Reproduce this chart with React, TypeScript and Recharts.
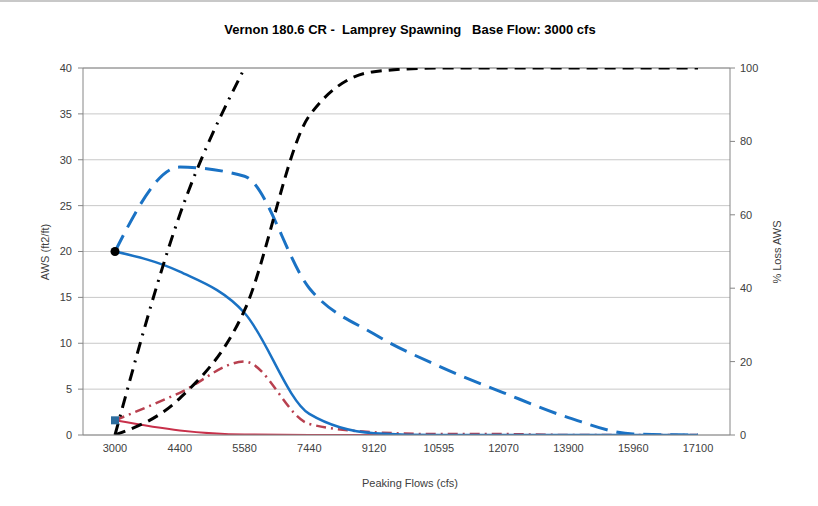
import React from 'react';
import { ComposedChart, Line, XAxis, YAxis, CartesianGrid, ReferenceLine } from 'recharts';

// peaking flows (cfs) - categories
const flows = ['3000', '4400', '5580', '7440', '9120', '10595', '12070', '13900', '15960', '17100'];

// AWS (ft2/ft), left axis
const awsBase = [20, 17.8, 13.3, 2.3, 0.2, 0, 0, 0, 0, 0];
const awsBaseDash = [20, 29.2, 28.2, 16.0, 11.0, 7.5, 4.6, 1.9, 0.1, 0];
const awsRed = [1.6, 0.5, 0.05, 0, 0, 0, 0, 0, 0, 0];
const awsRedDash = [1.6, 4.6, 8.0, 1.2, 0.3, 0.1, 0.1, 0, 0, 0];

// % loss AWS, right axis
const lossDash = [0, 10, 34, 87, 99, 100, 100, 100, 100, 100];
const lossDashDot = [0, 60, 100, null, null, null, null, null, null, null];

const leftTicks = [0, 5, 10, 15, 20, 25, 30, 35, 40];
const rightTicks = [0, 20, 40, 60, 80, 100];

const data = flows.map((f, i) => ({
  flow: f,
  awsBase: awsBase[i],
  awsBaseDash: awsBaseDash[i],
  awsRed: awsRed[i],
  awsRedDash: awsRedDash[i],
  lossDash: lossDash[i],
  lossDashDot: lossDashDot[i],
}));

const font = '"Liberation Sans", Arial, sans-serif';
const tickStyle = { fontSize: 11, fill: '#404040', fontFamily: font };

const blackDot = (p: any) =>
  p.index === 0 ? <circle key={'bd' + p.index} cx={p.cx} cy={p.cy} r={4.5} fill="#000" /> : <g key={'bd' + p.index} />;

const blueSquare = (p: any) =>
  p.index === 0 ? (
    <rect key={'bs' + p.index} x={p.cx - 4} y={p.cy - 4} width={8} height={8} fill="#2b6c9e" />
  ) : (
    <g key={'bs' + p.index} />
  );

export default function App() {
  return (
    <div>
      <div style={{ position: 'absolute', left: 0, top: 0, width: 818, height: 2, background: '#c8c8c8' }} />
      <div
        style={{
          position: 'relative',
          marginLeft: -1,
          marginTop: -1,
          width: 820,
          height: 510,
          border: '1px solid #a0a0a0',
          borderBottom: 'none',
          background: '#fff',
          fontFamily: font,
        }}
      >
        <div
          style={{
            position: 'absolute',
            left: 0,
            width: 804,
            top: 14,
            textAlign: 'center',
            fontSize: 13,
            fontWeight: 'bold',
            color: '#000',
            whiteSpace: 'pre',
          }}
        >
          {'Vernon 180.6 CR -  Lamprey Spawning   Base Flow: 3000 cfs'}
        </div>
        <div
          style={{
            position: 'absolute',
            left: 37,
            top: 244,
            transform: 'translate(-50%, -50%) rotate(-90deg)',
            fontSize: 11,
            color: '#404040',
            whiteSpace: 'nowrap',
          }}
        >
          AWS (ft2/ft)
        </div>
        <div
          style={{
            position: 'absolute',
            left: 769,
            top: 244,
            transform: 'translate(-50%, -50%) rotate(-90deg)',
            fontSize: 11,
            color: '#404040',
            whiteSpace: 'nowrap',
          }}
        >
          % Loss AWS
        </div>
        <div
          style={{
            position: 'absolute',
            left: 0,
            width: 804,
            top: 469,
            textAlign: 'center',
            fontSize: 11,
            color: '#404040',
          }}
        >
          Peaking Flows (cfs)
        </div>
        <div style={{ position: 'absolute', left: 0, top: 0 }}>
          <ComposedChart
            width={810}
            height={498}
            data={data}
            margin={{ top: 60, right: 48, bottom: 41, left: 35 }}
          >
            <CartesianGrid vertical={false} stroke="#c8c8c8" yAxisId="left" />
            <XAxis
              dataKey="flow"
              tick={tickStyle}
              tickLine={false}
              tickSize={4}
              tickMargin={5}
              height={30}
              stroke="#868686"
              interval={0}
              padding={{ left: 32, right: 32 }}
            />
            <YAxis
              yAxisId="left"
              domain={[0, 40]}
              ticks={leftTicks}
              width={40}
              tick={tickStyle}
              tickSize={5}
              tickMargin={6}
              stroke="#868686"
              allowDataOverflow
            />
            <YAxis
              yAxisId="right"
              orientation="right"
              domain={[0, 100]}
              ticks={rightTicks}
              width={40}
              tick={tickStyle}
              tickSize={5}
              tickMargin={5}
              stroke="#868686"
              allowDataOverflow
            />
            <ReferenceLine yAxisId="left" y={40} stroke="#868686" />
            <Line
              yAxisId="left"
              dataKey="awsRed"
              type="monotone"
              stroke="#c8304a"
              strokeWidth={2}
              dot={blueSquare}
              isAnimationActive={false}
            />
            <Line
              yAxisId="left"
              dataKey="awsRedDash"
              type="monotone"
              stroke="#b8404f"
              strokeWidth={2.5}
              strokeDasharray="10 5 2 5"
              dot={false}
              isAnimationActive={false}
            />
            <Line
              yAxisId="left"
              dataKey="awsBaseDash"
              type="monotone"
              stroke="#1a72c4"
              strokeWidth={3}
              strokeDasharray="18 9"
              dot={false}
              isAnimationActive={false}
            />
            <Line
              yAxisId="left"
              dataKey="awsBase"
              type="monotone"
              stroke="#1a72c4"
              strokeWidth={2.5}
              dot={blackDot}
              isAnimationActive={false}
            />
            <Line
              yAxisId="right"
              dataKey="lossDash"
              type="monotone"
              stroke="#000"
              strokeWidth={3}
              strokeDasharray="11 7"
              dot={false}
              isAnimationActive={false}
            />
            <Line
              yAxisId="right"
              dataKey="lossDashDot"
              type="monotone"
              stroke="#000"
              strokeWidth={3}
              strokeDasharray="12 7 2 7"
              dot={false}
              connectNulls={false}
              isAnimationActive={false}
            />
          </ComposedChart>
        </div>
      </div>
    </div>
  );
}
